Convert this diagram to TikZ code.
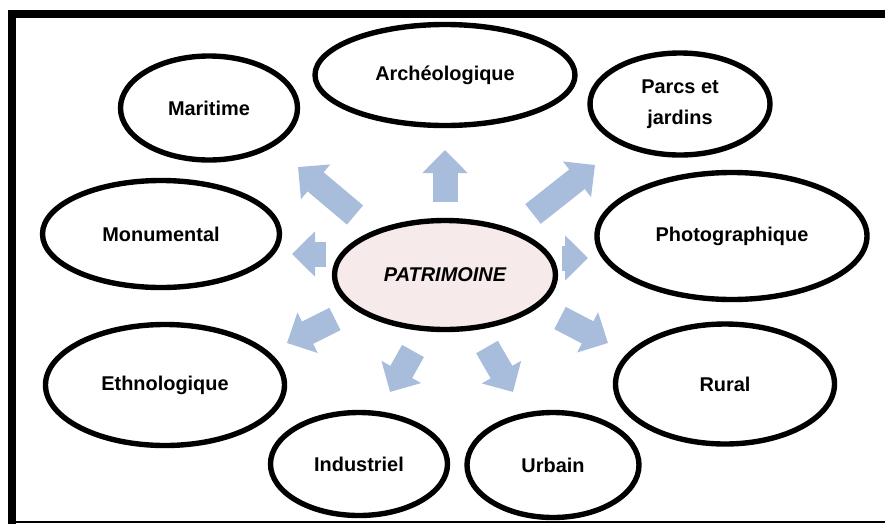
\documentclass[tikz,border=0pt]{standalone}
\usepackage{fontspec}
\setmainfont{Liberation Sans}
\usepackage{xcolor}
\usetikzlibrary{arrows.meta,shapes.geometric,shadows}
\definecolor{arrowblue}{RGB}{168,188,219}
\definecolor{patpink}{RGB}{246,234,234}
\tikzset{
  bub/.style={ellipse,draw=black,line width=4.6pt,fill=white,align=center,inner sep=0pt,
    drop shadow={opacity=0.2,shadow xshift=1.5pt,shadow yshift=-1.5pt},
    font=\fontsize{17}{26}\selectfont\bfseries},
  hub/.style={bub,fill=patpink,font=\fontsize{17}{26}\selectfont\bfseries\itshape},
  blk/.style={arrowblue,line width=0.75cm,-{Triangle[width=1.32cm,length=0.69cm]}},
  frm/.style={fill=black}
}

\begin{document}
\begin{tikzpicture}[x=0.03cm,y=-0.03cm]
\useasboundingbox (0,0) rectangle (885,524);
\fill[frm] (8,10) rectangle (885,18);
\fill[frm] (8,10) rectangle (16,524);
\draw[line width=1.2pt] (16,522) -- (885,522);

\foreach \n/\tx/\ty/\hx/\hy in {up/445/202/445/150, ul/355/215/298/167, ur/533/214/595/165,
  lf/326/254/292/254, rt/562/258/588/258, ll/335/319/287/343, lr/560/318/608/343,
  dl/413/351/390/392, dr/487/347/513/392}{
  \coordinate (t-\n) at (\tx,\ty);
  \coordinate (h-\n) at (\hx,\hy);
  \draw[blk] (t-\n) -- (h-\n);
}

\node[hub,minimum width=6.63cm,minimum height=3.27cm] (pat) at (445,275) {PATRIMOINE};
\node[bub,minimum width=7.8cm,minimum height=3.03cm] (arc) at (445,75) {Archéologique};
\node[bub,minimum width=5.31cm,minimum height=3.12cm] (mar) at (209,108) {Maritime};
\node[bub,minimum width=5.4cm,minimum height=3.06cm] (parc) at (680,104) {Parcs et\\jardins};
\node[bub,minimum width=7.11cm,minimum height=3.21cm] (mon) at (161,234) {Monumental};
\node[bub,minimum width=8.1cm,minimum height=3.81cm] (pho) at (732,236) {Photographique};
\node[bub,minimum width=7.17cm,minimum height=3.63cm] (eth) at (165,385) {Ethnologique};
\node[bub,minimum width=6.57cm,minimum height=3.6cm] (rur) at (725,384) {Rural};
\node[bub,minimum width=5.31cm,minimum height=3.09cm] (ind) at (359,464) {Industriel};
\node[bub,minimum width=5.16cm,minimum height=3.15cm] (urb) at (553,465) {Urbain};
\end{tikzpicture}
\end{document}
